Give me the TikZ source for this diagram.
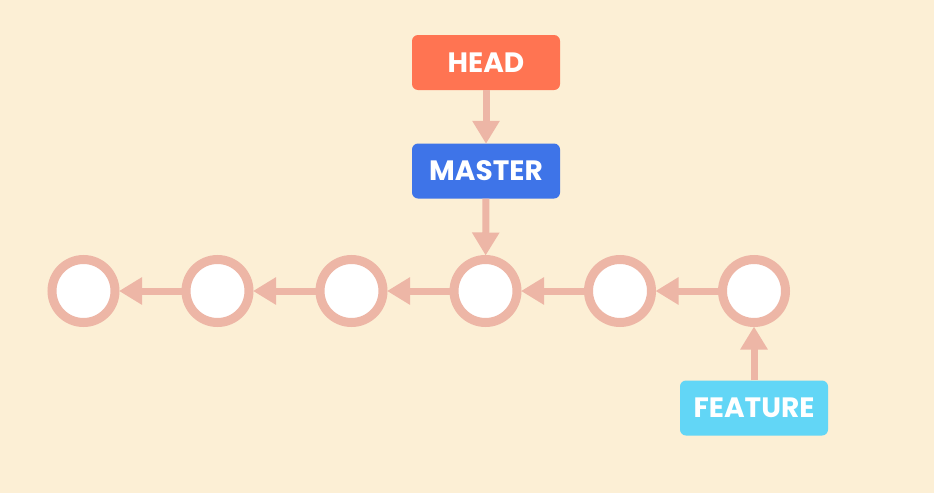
\documentclass[tikz,border=0pt]{standalone}
\usepackage{fontspec}
\setmainfont{Poppins}[UprightFont=* Bold]
\usetikzlibrary{arrows.meta}
\definecolor{bgcream}{HTML}{FCEFD5}
\definecolor{ringpink}{HTML}{EDB6A6}
\definecolor{headred}{HTML}{FF7452}
\definecolor{masterblue}{HTML}{3E74E8}
\definecolor{featurecyan}{HTML}{62D6F6}
\tikzset{
	commit/.style={circle, draw=ringpink, line width=9pt, fill=white, minimum size=63pt, inner sep=0pt},
	branch/.style={rectangle, rounded corners=6pt, minimum width=148pt, minimum height=55pt, inner sep=0pt, text=white, font=\fontsize{28}{32}\selectfont},
	link/.style={draw=ringpink, line width=7pt, -{Triangle[length=23pt, width=26pt]}, shorten >=-0.5pt}
}
\begin{document}
\begin{tikzpicture}[x=1pt, y=-1pt]
		\fill[bgcream] (0, 0) rectangle (934, 493);
		\useasboundingbox (0, 0) rectangle (934, 493);
		%%
		\node[commit] (c1) at (83.5, 291) {};
		\node[commit] (c2) at (217.5, 291) {};
		\node[commit] (c3) at (351.5, 291) {};
		\node[commit] (c4) at (485.5, 291) {};
		\node[commit] (c5) at (620, 291) {};
		\node[commit] (c6) at (754, 291) {};
		%%
		\node[branch, fill=headred] (head) at (486, 62.5) {HEAD};
		\node[branch, fill=masterblue] (master) at (486, 171) {MASTER};
		\node[branch, fill=featurecyan] (feature) at (754, 408) {FEATURE};
		%%
		\draw[link] (c2) -- (c1);
		\draw[link] (c3) -- (c2);
		\draw[link] (c4) -- (c3);
		\draw[link] (c5) -- (c4);
		\draw[link] (c6) -- (c5);
		%%
		\draw[link] (head) -- (master);
		\draw[link] (master) -- (c4);
		\draw[link] (feature) -- (c6);
	\end{tikzpicture}
\end{document}
